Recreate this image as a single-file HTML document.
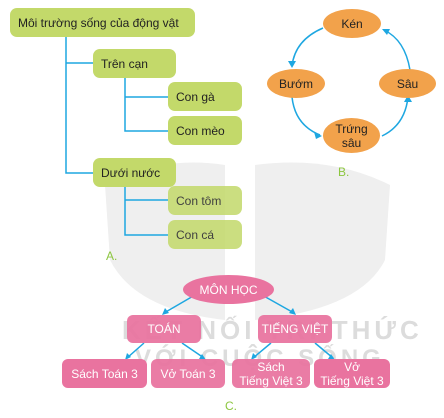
<!DOCTYPE html>
<html><head><meta charset="utf-8"><style>
body{margin:0;width:444px;height:418px;background:#fff;overflow:hidden;position:relative;font-family:"Liberation Sans",sans-serif}
.g{position:absolute;background:#c3d96a;border-radius:7px;font-size:12px;color:#222;display:flex;align-items:center;padding-left:8px;box-sizing:border-box}
.o{position:absolute;background:#f2a24b;border-radius:50%;font-size:12px;color:#222;display:flex;align-items:center;justify-content:center;text-align:center;line-height:14px}
.p{position:absolute;background:#e9739f;border-radius:6px;font-size:12px;color:#fff;display:flex;align-items:center;justify-content:center;text-align:center;line-height:14px}
.l{position:absolute;color:#8cc63f;font-size:12px}
svg{position:absolute;left:0;top:0}
.w{position:absolute;color:#dcdcdc;font-weight:bold;letter-spacing:4px;font-size:26px;white-space:nowrap}
</style></head><body>
<svg width="444" height="418">
<g fill="#efefef">
<path d="M105 185 Q160 155 225 165 L225 320 Q135 310 110 260 Z"/>
<path d="M255 165 Q330 155 390 185 L385 260 Q360 310 255 320 Z"/>
</g>
</svg>
<div class="w" style="left:122px;top:315px">KẾT NỐI TRI THỨC</div>
<div class="w" style="left:135px;top:345px;font-size:24px">VỚI CUỘC SỐNG</div>
<svg width="444" height="418">
<g stroke="#1ea7e1" stroke-width="1.5" fill="none">
<path d="M66 37V173H93M66 63H93"/>
<path d="M125 78V131H168M125 97H168"/>
<path d="M125 187V235H168M125 200H168"/>
<path d="M323 28Q295 40 292 66"/>
<path d="M292 97Q295 125 320 135"/>
<path d="M382 136Q405 125 408 97"/>
<path d="M410 70Q405 40 384 30"/>
<path d="M195 295L164 313M262 295L294 313M144 343L127 358M182 343L204 358M271 343L253 358M315 343L333 358"/>
</g>
<g fill="#1ea7e1">
<path d="M292 68l-4-7h8z"/><path d="M322 136l-8-4 2 7z"/><path d="M408 95l-4 7h8z"/><path d="M382 29l8 0-3 6z"/>
<path d="M162 315l3-7 4 5z"/><path d="M296 315l-7-2 4-5z"/><path d="M125 360l2-7 4 4z"/><path d="M206 360l-7-1 3-5z"/><path d="M251 360l2-7 4 4z"/><path d="M335 360l-7-1 3-5z"/>
</g>
</svg>
<div class="g" style="left:10px;top:8px;width:185px;height:29px">Môi trường sống của động vật</div>
<div class="g" style="left:93px;top:49px;width:83px;height:29px">Trên cạn</div>
<div class="g" style="left:168px;top:82px;width:74px;height:29px">Con gà</div>
<div class="g" style="left:168px;top:116px;width:74px;height:29px">Con mèo</div>
<div class="g" style="left:93px;top:158px;width:83px;height:29px">Dưới nước</div>
<div class="g" style="left:168px;top:186px;width:74px;height:29px;opacity:.85">Con tôm</div>
<div class="g" style="left:168px;top:220px;width:74px;height:29px;opacity:.85">Con cá</div>
<div class="l" style="left:106px;top:249px">A.</div>
<div class="o" style="left:323px;top:9px;width:58px;height:29px">Kén</div>
<div class="o" style="left:267px;top:69px;width:58px;height:29px">Bướm</div>
<div class="o" style="left:379px;top:69px;width:57px;height:29px">Sâu</div>
<div class="o" style="left:323px;top:118px;width:57px;height:35px">Trứng<br>sâu</div>
<div class="l" style="left:338px;top:165px">B.</div>
<div class="p" style="left:183px;top:275px;width:91px;height:29px;border-radius:50%">MÔN HỌC</div>
<div class="p" style="left:127px;top:315px;width:74px;height:28px;opacity:.93">TOÁN</div>
<div class="p" style="left:258px;top:315px;width:74px;height:28px;opacity:.93">TIẾNG VIỆT</div>
<div class="p" style="left:62px;top:359px;width:85px;height:29px">Sách Toán 3</div>
<div class="p" style="left:151px;top:359px;width:74px;height:29px;opacity:.93">Vở Toán 3</div>
<div class="p" style="left:232px;top:359px;width:78px;height:29px;opacity:.93">Sách<br>Tiếng Việt 3</div>
<div class="p" style="left:314px;top:359px;width:76px;height:29px">Vở<br>Tiếng Việt 3</div>
<div class="l" style="left:225px;top:399px">C.</div>
</body></html>
